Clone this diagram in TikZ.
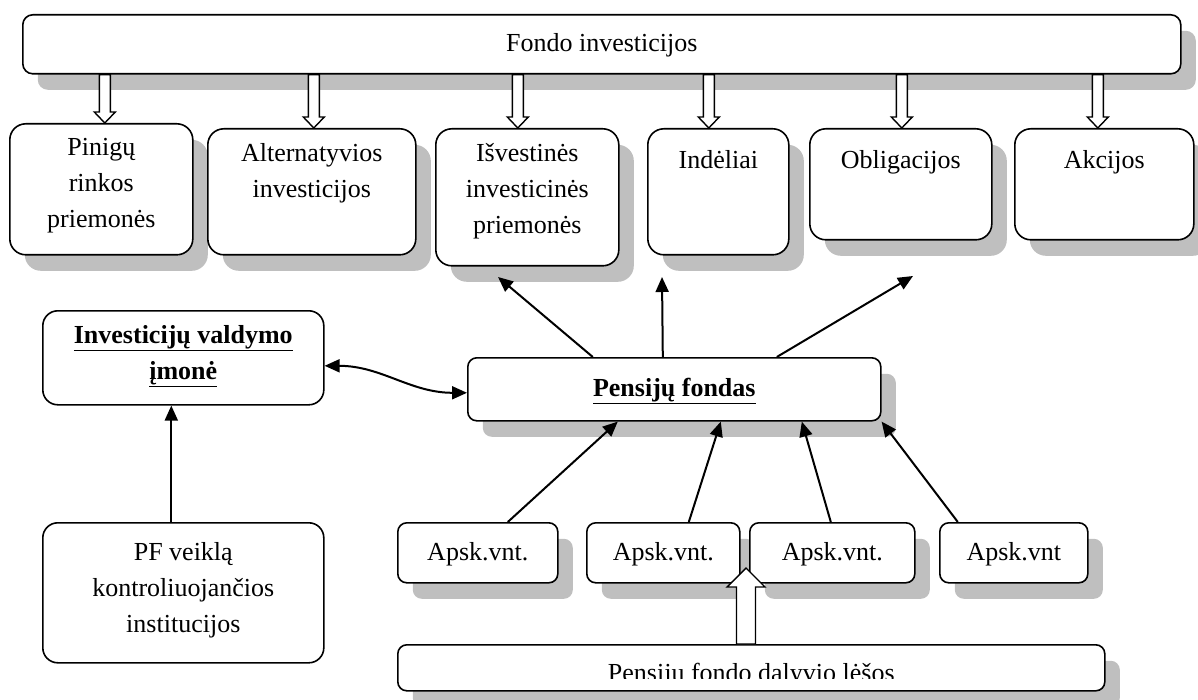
\documentclass[tikz,border=0pt]{standalone}
\usepackage{fontspec}
\setmainfont{Liberation Serif}
\usetikzlibrary{arrows.meta, positioning, calc, shadows}

\tikzset{
  box/.style={draw, fill=white, rounded corners=9pt, line width=1.6pt,
    inner sep=0pt, align=center,
    execute at begin node=\strut, execute at end node=\strut},
  shade/.style={drop shadow={shadow xshift=15pt, shadow yshift=-16pt,
    fill=black!25, opacity=1}},
  bigbox/.style={box, shade, rounded corners=16pt, anchor=north west},
  toptext/.style={anchor=north, align=center, inner sep=0pt, yshift=-15pt,
    execute at begin node=\strut},
  conn/.style={-{Triangle[length=15pt, width=13pt]}, line width=2pt},
  dconn/.style={{Triangle[length=15pt, width=13pt]}-{Triangle[length=15pt, width=13pt]},
    line width=2pt},
  blockarrow/.style args={#1/#2/#3}{draw, fill=white, line width=1.4pt,
    to path={
      let \p1=(\tikztostart), \p2=(\tikztotarget),
          \p3=($(\tikztotarget)!#3!(\tikztostart)$),
          \p4=($(\tikztostart)!#1!90:(\tikztotarget)$),
          \p5=($(\tikztostart)!#2!90:(\tikztotarget)$)
      in (\p4) -- ($(\p4)+(\p3)-(\p1)$) -- ($(\p5)+(\p3)-(\p1)$) -- (\p2)
         -- ($(\p3)+(\p1)-(\p5)$) -- ($(\p3)+(\p1)-(\p4)$)
         -- ($2*(\p1)-(\p4)$) -- cycle}}
}

\begin{document}
\begin{tikzpicture}[x=1pt, y=-1pt, font=\fontsize{26pt}{36pt}\selectfont]
  \path[use as bounding box, clip] (0,0) rectangle (1198,700);
  % fund investments
  \node[box, shade, anchor=north west, rounded corners=10pt,
        minimum width=1158pt, minimum height=59pt] (fondo) at (22,14)
        {Fondo investicijos};
  \node[bigbox, minimum width=183pt, minimum height=131pt,
        label={[toptext]north:{Pinigų\\rinkos\\priemonės}}] (pin) at (9,123) {};
  \node[bigbox, minimum width=208pt, minimum height=126pt,
        label={[toptext]north:{Alternatyvios\\investicijos}}] (alt) at (207,128) {};
  \node[bigbox, minimum width=183pt, minimum height=137pt,
        label={[toptext]north:{Išvestinės\\investicinės\\priemonės}}] (isv) at (435,128) {};
  \node[bigbox, minimum width=141pt, minimum height=126pt,
        label={[toptext]north:Indėliai}] (ind) at (647,128) {};
  \node[bigbox, minimum width=182pt, minimum height=111pt,
        label={[toptext]north:Obligacijos}] (obl) at (809,128) {};
  \node[bigbox, minimum width=179pt, minimum height=111pt,
        label={[toptext]north:Akcijos}] (akc) at (1014,128) {};
  % management company and supervision
  \node[box, anchor=north west, rounded corners=15pt,
        minimum width=281pt, minimum height=94pt] (inv) at (42,310)
        {{\bfseries\underline{Investicijų valdymo}}\\{\bfseries\underline{įmonė}}};
  \node[box, anchor=north west, rounded corners=15pt,
        minimum width=281pt, minimum height=140pt] (pf) at (42,522)
        {PF veiklą\\kontroliuojančios\\institucijos};
  % pension fund and units
  \node[box, shade, anchor=north west, minimum width=413pt, minimum height=63pt]
        (fondas) at (467,357) {\bfseries\underline{Pensijų fondas}};
  \node[box, shade, anchor=north west, minimum width=160pt, minimum height=60pt]
        (a1) at (397,522) {Apsk.vnt.};
  \node[box, shade, anchor=north west, minimum width=153pt, minimum height=60pt]
        (a2) at (586,522) {Apsk.vnt.};
  \node[box, shade, anchor=north west, minimum width=165pt, minimum height=60pt]
        (a3) at (749,522) {Apsk.vnt.};
  \node[box, shade, anchor=north west, minimum width=148pt, minimum height=60pt]
        (a4) at (939,522) {Apsk.vnt};
  \node[box, shade, anchor=north west, minimum width=707pt, minimum height=46pt,
        path picture={
          \clip (path picture bounding box.north west) rectangle
                ([yshift=12pt]path picture bounding box.south east);
          \node[anchor=base, inner sep=0pt] at ([yshift=9pt]path picture bounding box.south)
                {Pensijų fondo dalyvio lėšos};}]
        (dalyv) at (397,644) {};

  % block arrows from the fund
  \foreach \b/\dx in {pin/3.5, alt/2, isv/-9.5, ind/-9.5, obl/1, akc/-6.5}{
    \coordinate (tip) at ([xshift=\dx pt]\b.north);
    \coordinate (root) at (fondo.south -| tip);
    \draw[blockarrow=5.5pt/10.5pt/11pt] (root) to (tip);
  }
  % pension fund out
  \coordinate (o1) at (498,277);
  \coordinate (o2) at (662,277);
  \coordinate (o3) at (913,276);
  \draw[conn] ([xshift=-81.5pt]fondas.north) -- (o1);
  \draw[conn] ([xshift=-11.5pt]fondas.north) -- (o2);
  \draw[conn] ([xshift=102.5pt]fondas.north) -- (o3);
  % units in
  \draw[conn] ([xshift=30pt]a1.north) -- ([xshift=-56.5pt]fondas.south);
  \draw[conn] ([xshift=25.5pt]a2.north) -- ([xshift=46.5pt]fondas.south);
  \draw[conn] ([xshift=-1.5pt]a3.north) -- ([xshift=127.5pt]fondas.south);
  \draw[conn] ([xshift=-56pt]a4.north) -- (fondas.south east);
  % management
  \draw[conn] ([xshift=-12pt]pf.north) -- ([xshift=-12pt]inv.south);
  \draw[dconn] ([yshift=-8pt]inv.east) to[out=0, in=180] ([yshift=-3.5pt]fondas.west);
  % participant money
  \coordinate (up) at (746,568);
  \coordinate (base) at (dalyv.north -| up);
  \draw[blockarrow=9.5pt/19pt/19pt] (base) to (up);
\end{tikzpicture}
\end{document}
